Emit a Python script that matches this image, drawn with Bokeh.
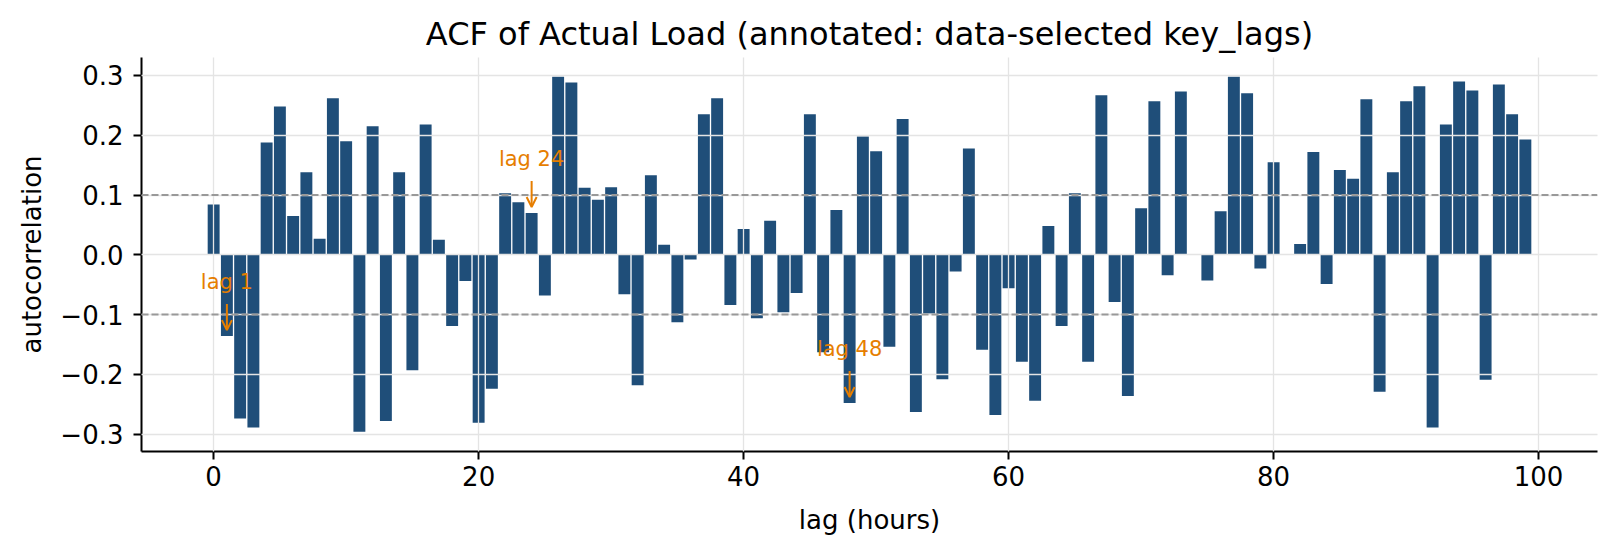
from bokeh.plotting import figure
from bokeh.models import (ColumnDataSource, Span, Arrow, OpenHead, LabelSet,
                          FixedTicker, CustomJSTickFormatter, Range1d)
from bokeh.core.properties import value
from bokeh.embed import file_html
from bokeh.resources import INLINE

# ---------------- data ----------------
lags = list(range(100))
acf = [
    0.084, -0.136, -0.274, -0.289, 0.188, 0.248, 0.065, 0.138, 0.027, 0.262,
    0.190, -0.296, 0.215, -0.278, 0.138, -0.193, 0.218, 0.025, -0.119, -0.044,
    -0.281, -0.224, 0.103, 0.088, 0.070, -0.068, 0.298, 0.288, 0.112, 0.092,
    0.113, -0.066, -0.218, 0.133, 0.017, -0.113, -0.008, 0.235, 0.262, -0.084,
    0.043, -0.106, 0.057, -0.096, -0.064, 0.235, -0.163, 0.075, -0.248, 0.198,
    0.173, -0.154, 0.227, -0.263, -0.098, -0.208, -0.028, 0.178, -0.159, -0.268,
    -0.056, -0.179, -0.244, 0.048, -0.119, 0.103, -0.179, 0.267, -0.079, -0.236,
    0.078, 0.257, -0.034, 0.273, 0.000, -0.043, 0.073, 0.298, 0.270, -0.023,
    0.155, 0.000, 0.018, 0.172, -0.049, 0.142, 0.127, 0.260, -0.229, 0.138,
    0.257, 0.282, -0.289, 0.218, 0.290, 0.275, -0.209, 0.285, 0.235, 0.193,
]
key_lags = [1, 24, 48]
key_labels = ["lag 1", "lag 24", "lag 48"]
conf_band = 0.1
x_ticks = [0, 20, 40, 60, 80, 100]
y_ticks = [-0.3, -0.2, -0.1, 0.0, 0.1, 0.2, 0.3]

# ---------------- style ----------------
FONT = "DejaVu Sans"
BAR = "#1f4e79"
ORANGE = "#e67e00"
X0, X1 = -5.445, 104.445
Y0, Y1 = -0.329, 0.330
FIG_W, FIG_H = 1599, 539
B_L, B_R, B_T, B_B = 141, 2, 57, 88
FRAME_H = FIG_H - B_T - B_B
PPU = FRAME_H / (Y1 - Y0)  # pixels per data unit (y)

p = figure(width=FIG_W, height=FIG_H, output_backend="svg", toolbar_location=None,
           x_range=Range1d(X0, X1), y_range=Range1d(Y0, Y1),
           min_border_left=B_L, min_border_right=B_R,
           min_border_top=B_T, min_border_bottom=B_B)
p.outline_line_color = None
p.background_fill_color = "white"
p.border_fill_color = "white"

src = ColumnDataSource(dict(lag=lags, acf=acf))
p.vbar(x="lag", top="acf", bottom=0, width=0.9, source=src,
       fill_color=BAR, line_color=None)

# grid (drawn over bars, like the reference)
for g in (p.xgrid, p.ygrid):
    g.grid_line_color = "#e4e4e4"
    g.grid_line_width = 1.3
    g.level = "guide"
p.xgrid.ticker = FixedTicker(ticks=x_ticks)
p.ygrid.ticker = FixedTicker(ticks=y_ticks)

# confidence dashed lines
for loc in (conf_band, -conf_band):
    p.add_layout(Span(location=loc, dimension="width", line_color="#999999",
                      line_width=2, line_dash="7 3"))

# annotations
ka_y = [acf[l] for l in key_lags]
ann = ColumnDataSource(dict(
    x=key_lags,
    y_text=[v + 47 / PPU for v in ka_y],
    y_start=[v + 32 / PPU for v in ka_y],
    y_end=[v + 6 / PPU for v in ka_y],
    label=key_labels,
))
p.add_layout(Arrow(end=OpenHead(size=10, line_color=ORANGE, line_width=2),
                   x_start="x", y_start="y_start", x_end="x", y_end="y_end",
                   line_color=ORANGE, line_width=2, source=ann))
p.add_layout(LabelSet(x="x", y="y_text", text="label", source=ann,
                      text_align="center", text_baseline="alphabetic",
                      text_font=value(FONT), text_font_size=value("21px"),
                      text_color=ORANGE))

# title
p.title.text = "ACF of Actual Load (annotated: data-selected key_lags)"
p.title.text_font = FONT
p.title.text_font_size = "32px"
p.title.text_font_style = "normal"
p.title.text_color = "black"
p.title.align = "center"
p.title.standoff = 9

# axes
p.xaxis.ticker = FixedTicker(ticks=x_ticks)
p.yaxis.ticker = FixedTicker(ticks=y_ticks)
p.yaxis.formatter = CustomJSTickFormatter(
    code="return tick.toFixed(1).replace('-', '\\u2212');")
p.xaxis.axis_label = "lag (hours)"
p.yaxis.axis_label = "autocorrelation"
for ax in (p.xaxis, p.yaxis):
    ax.axis_line_color = "black"
    ax.axis_line_width = 2
    ax.major_tick_line_color = "black"
    ax.major_tick_line_width = 2
    ax.major_tick_out = 8
    ax.major_tick_in = 0
    ax.minor_tick_line_color = None
    ax.major_label_text_font = FONT
    ax.major_label_text_font_size = "26px"
    ax.major_label_text_color = "black"
    ax.axis_label_text_font = FONT
    ax.axis_label_text_font_size = "26px"
    ax.axis_label_text_font_style = "normal"
    ax.axis_label_text_color = "black"
p.xaxis.major_label_standoff = 6
p.yaxis.major_label_standoff = 10
p.xaxis.axis_label_standoff = 16
p.yaxis.axis_label_standoff = 10

open("out.html", "w").write(file_html(p, INLINE))
